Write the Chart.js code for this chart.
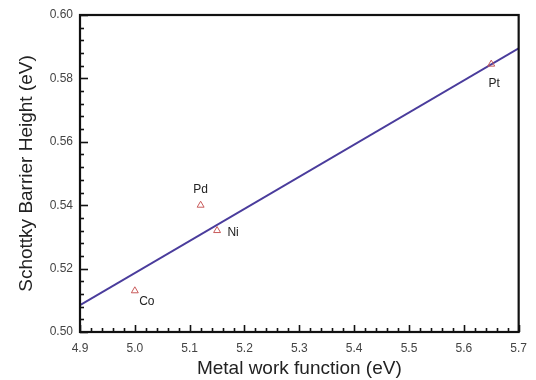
<!DOCTYPE html>
<html><head><meta charset="utf-8">
<script src="https://cdn.jsdelivr.net/npm/chart.js@4"></script>
<style>html,body{margin:0;padding:0;background:#fff}#wrap{width:536px;height:380px}</style>
</head><body><div id="wrap"><canvas id="c" width="536" height="380"></canvas></div>
<script>
const metals = ['Co', 'Pd', 'Ni', 'Pt'];
const workFunction = [5.00, 5.12, 5.15, 5.65];
const barrierHeight = [0.513, 0.540, 0.532, 0.5845];
const fitX = [4.9, 5.7];
const fitY = [0.5085, 0.5895];
const xTicks = [4.9, 5.0, 5.1, 5.2, 5.3, 5.4, 5.5, 5.6, 5.7];
const yTicks = [0.50, 0.52, 0.54, 0.56, 0.58, 0.60];

const labelOffsets = [[12, 11], [0, -16], [16, 2], [3, 20]];

const decor = {
  id: 'decor',
  afterDraw(chart) {
    const {ctx, chartArea: a, scales} = chart;
    const xs = scales.x, ys = scales.y;
    ctx.save();
    ctx.strokeStyle = '#111';
    ctx.lineWidth = 1.6;
    for (let i = 0; i <= 40; i++) {
      const v = 4.9 + i * 0.02;
      const px = Math.round(xs.getPixelForValue(v)) + 0.5;
      const len = (i % 5 === 0) ? 7 : 4;
      ctx.beginPath(); ctx.moveTo(px, a.bottom); ctx.lineTo(px, a.bottom - len); ctx.stroke();
    }
    for (let i = 0; i <= 25; i++) {
      const v = 0.5 + i * 0.004;
      const py = Math.round(ys.getPixelForValue(v)) + 0.5;
      const len = (i % 5 === 0) ? 8 : 4;
      ctx.beginPath(); ctx.moveTo(a.left, py); ctx.lineTo(a.left + len, py); ctx.stroke();
    }
    ctx.lineWidth = 2.2;
    ctx.strokeRect(a.left, a.top, a.right - a.left, a.bottom - a.top);
    ctx.fillStyle = '#222';
    ctx.font = '12px "Liberation Sans", Arial, sans-serif';
    ctx.textAlign = 'center';
    ctx.textBaseline = 'middle';
    metals.forEach((m, i) => {
      const px = xs.getPixelForValue(workFunction[i]);
      const py = ys.getPixelForValue(barrierHeight[i]);
      ctx.fillText(m, px + labelOffsets[i][0], py + labelOffsets[i][1]);
    });
    ctx.restore();
  }
};

new Chart(document.getElementById('c'), {
  type: 'scatter',
  data: {
    datasets: [
      {
        data: fitX.map((x, i) => ({x, y: fitY[i]})),
        showLine: true,
        borderColor: '#4a3c9c',
        borderWidth: 2,
        pointRadius: 0,
        order: 2
      },
      {
        data: workFunction.map((x, i) => ({x, y: barrierHeight[i]})),
        pointStyle: 'triangle',
        pointRadius: 4,
        borderColor: '#c85a5a',
        backgroundColor: 'rgba(255,255,255,0)',
        pointBorderWidth: 1,
        order: 1
      }
    ]
  },
  options: {
    responsive: false,
    animation: false,
    events: [],
    layout: {padding: {top: 15, right: 15, left: 0, bottom: 0}},
    plugins: {legend: {display: false}, tooltip: {enabled: false}},
    scales: {
      x: {
        type: 'linear', min: 4.9, max: 5.7,
        afterBuildTicks: s => { s.ticks = xTicks.map(v => ({value: v})); },
        afterFit: s => { s.height = 48; },
        grid: {display: false, drawTicks: false},
        border: {display: false},
        ticks: {padding: 9, color: '#444', font: {size: 12, family: '"Liberation Sans", Arial, sans-serif'},
                callback: v => Number(v).toFixed(1)},
        title: {display: true, text: 'Metal work function (eV)', color: '#222',
                font: {size: 19, family: '"Liberation Sans", Arial, sans-serif'}, padding: {top: 0, bottom: 0}}
      },
      y: {
        type: 'linear', min: 0.5, max: 0.6,
        afterBuildTicks: s => { s.ticks = yTicks.map(v => ({value: v})); },
        afterFit: s => { s.width = 80; },
        grid: {display: false, drawTicks: false},
        border: {display: false},
        ticks: {padding: 7, color: '#444', font: {size: 12, family: '"Liberation Sans", Arial, sans-serif'},
                callback: v => Number(v).toFixed(2)},
        title: {display: true, text: 'Schottky Barrier Height (eV)', color: '#222',
                font: {size: 19, family: '"Liberation Sans", Arial, sans-serif'}, padding: {top: 15, bottom: 0}}
      }
    }
  },
  plugins: [decor]
});
</script></body></html>
